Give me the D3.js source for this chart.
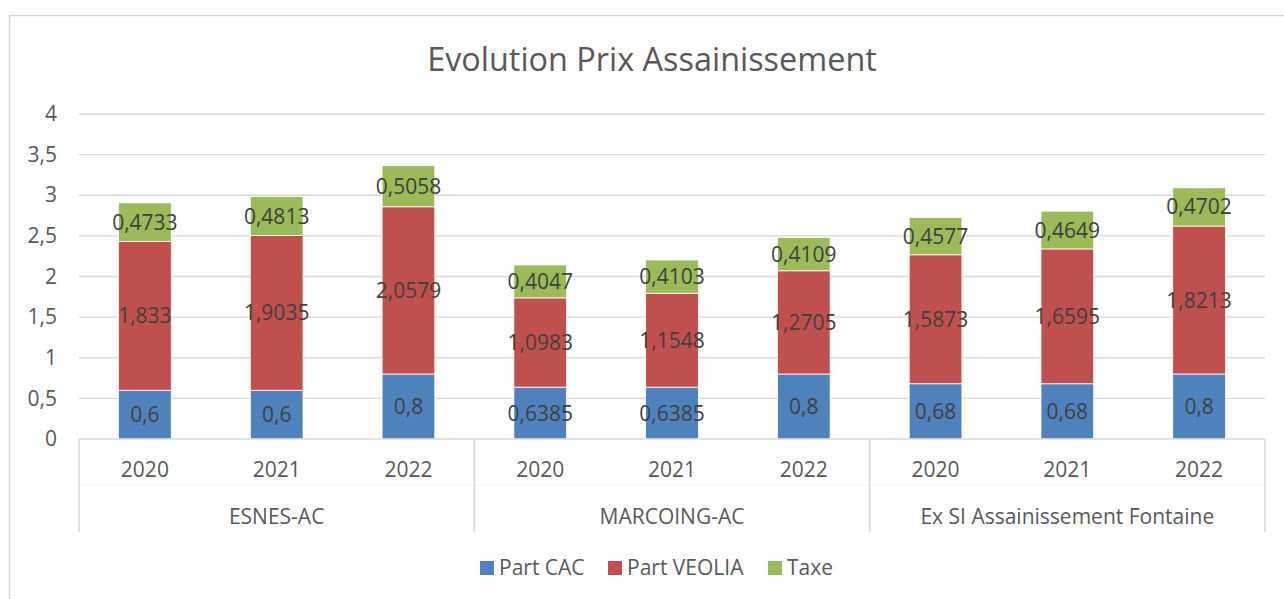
<!DOCTYPE html>
<html>
<head>
<meta charset="utf-8">
<script src="https://cdn.jsdelivr.net/npm/d3@7"></script>
<style>
    body { margin: 0; background: #fff; }
    svg { display: block; font-family: "Open Sans", sans-serif; }
</style>
</head>
<body>
<svg id="chart" width="1284" height="599"></svg>
<script>
// chart data
const groups = ["ESNES-AC", "MARCOING-AC", "Ex SI Assainissement Fontaine"];
const years = ["2020", "2021", "2022"];
const seriesNames = ["Part CAC", "Part VEOLIA", "Taxe"];
const seriesColors = ["#4f81bd", "#c0504d", "#9bbb59"];
const partCAC = [0.6, 0.6, 0.8, 0.6385, 0.6385, 0.8, 0.68, 0.68, 0.8];
const partVEOLIA = [1.833, 1.9035, 2.0579, 1.0983, 1.1548, 1.2705, 1.5873, 1.6595, 1.8213];
const taxe = [0.4733, 0.4813, 0.5058, 0.4047, 0.4103, 0.4109, 0.4577, 0.4649, 0.4702];
const yTicks = [0, 0.5, 1, 1.5, 2, 2.5, 3, 3.5, 4];

document.addEventListener("DOMContentLoaded", function () {
    const svg = d3.select("#chart");
    const left = 79, right = 1265, top = 114, bottom = 439;

    // build rows: one per bar
    const rows = [];
    groups.forEach((g, gi) => {
        years.forEach((yr, yi) => {
            const i = gi * years.length + yi;
            rows.push({ key: g + "|" + yr, group: g, year: yr, "Part CAC": partCAC[i], "Part VEOLIA": partVEOLIA[i], "Taxe": taxe[i] });
        });
    });

    const x = d3.scaleBand()
        .domain(rows.map((d) => d.key))
        .range([left, right])
        .paddingInner(0.6)
        .paddingOuter(0.3);

    const y = d3.scaleLinear().domain([0, 4]).range([bottom, top]);

    const color = d3.scaleOrdinal().domain(seriesNames).range(seriesColors);

    // chart border
    svg.append("rect")
        .attr("x", 9.5).attr("y", 15.5)
        .attr("width", 1290).attr("height", 600)
        .attr("fill", "none")
        .attr("stroke", "#d9d9d9")
        .attr("stroke-width", 1.5);

    // title
    svg.append("text")
        .attr("x", 652).attr("y", 71)
        .attr("text-anchor", "middle")
        .attr("fill", "#595959")
        .style("font-size", "32.4px")
        .text("Evolution Prix Assainissement");

    // gridlines
    svg.append("g")
        .selectAll("line")
        .data(yTicks.filter((t) => t > 0))
        .enter()
        .append("line")
        .attr("x1", left).attr("x2", right)
        .attr("y1", (d) => y(d)).attr("y2", (d) => y(d))
        .attr("stroke", "#d9d9d9")
        .attr("stroke-width", 1.3);

    // y axis labels
    const yAxis = svg.append("g")
        .attr("transform", `translate(${left - 22},0)`)
        .call(d3.axisLeft(y).tickValues(yTicks).tickSize(0).tickPadding(0)
            .tickFormat((d) => String(d).replace(".", ",")));
    yAxis.select(".domain").remove();
    yAxis.selectAll("text")
        .attr("fill", "#595959")
        .style("font-size", "21px")
        .style("font-family", "Open Sans, sans-serif");

    // stacked bars
    const stack = d3.stack().keys(seriesNames);
    const layers = stack(rows);

    const layer = svg.append("g")
        .selectAll("g")
        .data(layers)
        .enter()
        .append("g")
        .attr("fill", (d) => color(d.key));

    layer.selectAll("rect")
        .data((d) => d)
        .enter()
        .append("rect")
        .attr("x", (d) => x(d.data.key))
        .attr("width", x.bandwidth())
        .attr("y", (d) => y(d[1]))
        .attr("height", (d) => y(d[0]) - y(d[1]))
        .attr("stroke", "#ffffff")
        .attr("stroke-width", 0.8);

    // data labels
    layer.selectAll("text")
        .data((d) => d.map((p) => ({ p: p, key: d.key })))
        .enter()
        .append("text")
        .attr("x", (d) => x(d.p.data.key) + x.bandwidth() / 2)
        .attr("y", (d) => (y(d.p[0]) + y(d.p[1])) / 2)
        .attr("dy", "0.36em")
        .attr("text-anchor", "middle")
        .attr("fill", "#404040")
        .style("font-size", "21px")
        .text((d) => String(d.p.data[d.key]).replace(".", ","));

    // category axis
    svg.append("line")
        .attr("x1", left).attr("x2", right)
        .attr("y1", bottom).attr("y2", bottom)
        .attr("stroke", "#d9d9d9").attr("stroke-width", 1.5);

    svg.append("line")
        .attr("x1", left).attr("x2", right)
        .attr("y1", 485).attr("y2", 485)
        .attr("stroke", "#f6f6f6").attr("stroke-width", 1);

    const groupWidth = (right - left) / groups.length;
    const seps = d3.range(groups.length + 1).map((i) => left + i * groupWidth);
    svg.append("g")
        .selectAll("line")
        .data(seps)
        .enter()
        .append("line")
        .attr("x1", (d) => d).attr("x2", (d) => d)
        .attr("y1", bottom).attr("y2", 532)
        .attr("stroke", "#d9d9d9").attr("stroke-width", 1.5);

    svg.append("g")
        .selectAll("text")
        .data(rows)
        .enter()
        .append("text")
        .attr("x", (d) => x(d.key) + x.bandwidth() / 2)
        .attr("y", 477)
        .attr("text-anchor", "middle")
        .attr("fill", "#595959")
        .style("font-size", "21px")
        .text((d) => d.year);

    svg.append("g")
        .selectAll("text")
        .data(groups)
        .enter()
        .append("text")
        .attr("x", (d, i) => left + (i + 0.5) * groupWidth)
        .attr("y", 524)
        .attr("text-anchor", "middle")
        .attr("fill", "#595959")
        .style("font-size", "21px")
        .text((d) => d);

    // legend
    const legendX = [480, 608, 768];
    const legend = svg.append("g")
        .selectAll("g")
        .data(seriesNames)
        .enter()
        .append("g")
        .attr("transform", (d, i) => `translate(${legendX[i]},561)`);

    legend.append("rect")
        .attr("width", 14).attr("height", 14)
        .attr("fill", (d) => color(d));

    legend.append("text")
        .attr("x", 19).attr("y", 14)
        .attr("fill", "#595959")
        .style("font-size", "21px")
        .text((d) => d);
});
</script>
</body>
</html>
